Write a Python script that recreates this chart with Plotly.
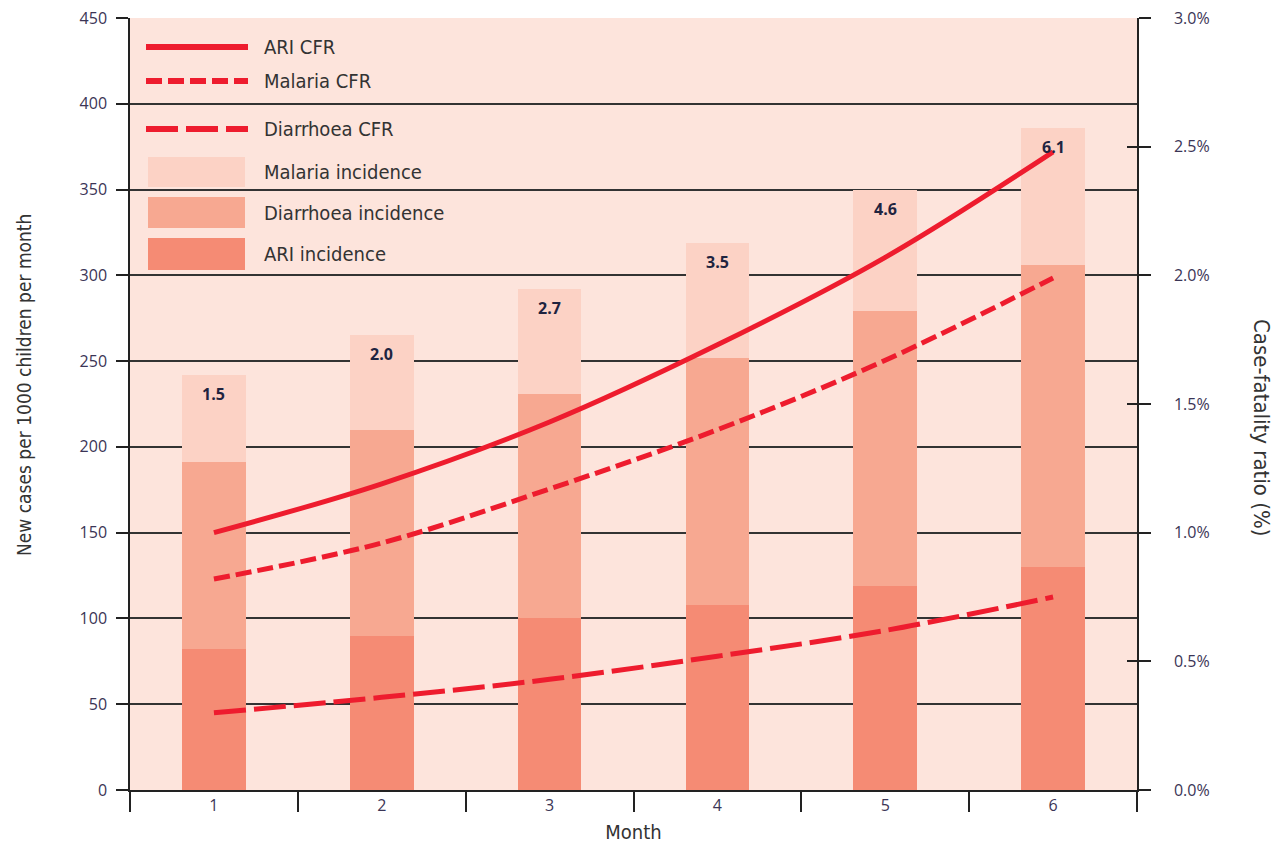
import plotly.graph_objects as go

months = ["1", "2", "3", "4", "5", "6"]
ari_inc = [82, 90, 100, 108, 119, 130]
diarrhoea_inc = [109, 120, 131, 144, 160, 176]
malaria_inc = [51, 55, 61, 67, 71, 80]
ari_cfr = [1.0, 1.19, 1.43, 1.73, 2.07, 2.48]
malaria_cfr = [0.82, 0.96, 1.17, 1.40, 1.67, 1.99]
diarrhoea_cfr = [0.30, 0.36, 0.43, 0.52, 0.62, 0.75]
bar_labels = ["1.5", "2.0", "2.7", "3.5", "4.6", "6.1"]
left_ticks = list(range(0, 451, 50))
right_ticks = [0, 0.5, 1.0, 1.5, 2.0, 2.5, 3.0]
right_ticktext = ["0.0%", "0.5%", "1.0%", "1.5%", "2.0%", "2.5%", "3.0%"]
right_inner_ticks = [0.5, 1.5, 2.5]

C_BG = "#FDE4DC"
C_MAL = "#FCD2C5"
C_DIA = "#F7A891"
C_ARI = "#F58B74"
C_RED = "#EE1C2E"
TXT = "#3b3556"
FONT = "Open Sans"
COND = "DejaVu Sans Condensed"
DASH_MAL = "16px,6px"
DASH_DIA = "32px,8px"

fig = go.Figure()
for vals, col, nm in [(ari_inc, C_ARI, "ARI incidence"), (diarrhoea_inc, C_DIA, "Diarrhoea incidence"),
                      (malaria_inc, C_MAL, "Malaria incidence")]:
    fig.add_bar(x=months, y=vals, marker=dict(color=col, line=dict(width=0)), width=0.38, name=nm)

fig.add_scatter(x=months, y=ari_cfr, yaxis="y2", mode="lines", line=dict(color=C_RED, width=5, shape="spline"), name="ARI CFR")
fig.add_scatter(x=months, y=malaria_cfr, yaxis="y2", mode="lines", line=dict(color=C_RED, width=5, shape="spline", dash=DASH_MAL), name="Malaria CFR")
fig.add_scatter(x=months, y=diarrhoea_cfr, yaxis="y2", mode="lines", line=dict(color=C_RED, width=5, shape="spline", dash=DASH_DIA), name="Diarrhoea CFR")

totals = [a + d + m for a, d, m in zip(ari_inc, diarrhoea_inc, malaria_inc)]
for i, (tot, lab) in enumerate(zip(totals, bar_labels)):
    fig.add_annotation(x=i, y=tot, text="<b>" + lab + "</b>", showarrow=False,
                       yanchor="top", yshift=-6, font=dict(family=FONT, size=16, color="#1f2440"))

# custom legend (pixel positions converted to paper coordinates)
L, R, T, B = 130, 1137, 18, 790
def px(x):
    return (x - L) / (R - L)
def py(y):
    return (B - y) / (B - T)

LEGFONT = dict(family=COND, size=20, color="#333333")
leg_lines = [("ARI CFR", 47, "solid"), ("Malaria CFR", 81, DASH_MAL), ("Diarrhoea CFR", 129, DASH_DIA)]
for name, yy, dash in leg_lines:
    fig.add_shape(type="line", xref="paper", yref="paper", x0=px(146), x1=px(248), y0=py(yy), y1=py(yy),
                  line=dict(color=C_RED, width=6, dash=dash))
    fig.add_annotation(xref="paper", yref="paper", x=px(262), y=py(yy), text=name, showarrow=False,
                       xanchor="left", yanchor="middle", font=LEGFONT)
leg_boxes = [("Malaria incidence", 157, 187, C_MAL), ("Diarrhoea incidence", 197, 228, C_DIA), ("ARI incidence", 238, 270, C_ARI)]
for name, y0, y1, col in leg_boxes:
    fig.add_shape(type="rect", xref="paper", yref="paper", x0=px(148), x1=px(245), y0=py(y1), y1=py(y0),
                  fillcolor=col, line=dict(width=0))
    fig.add_annotation(xref="paper", yref="paper", x=px(262), y=py((y0 + y1) / 2), text=name, showarrow=False,
                       xanchor="left", yanchor="middle", font=LEGFONT)

fig.add_annotation(xref="paper", yref="paper", x=px(1262), y=py(427), text="Case-fatality ratio (%)",
                   textangle=90, xanchor="center", yanchor="middle", showarrow=False,
                   font=dict(family=COND, size=22, color="#333333"))
fig.add_annotation(xref="paper", yref="paper", x=px(24), y=py(385), text="New cases per 1000 children per month",
                   textangle=-90, xanchor="center", yanchor="middle", showarrow=False,
                   font=dict(family=COND, size=19, color="#333333"))

fig.update_layout(
    width=1276, height=862,
    margin=dict(l=L, r=1276 - R, t=T, b=862 - B, autoexpand=False),
    paper_bgcolor="white", plot_bgcolor=C_BG,
    barmode="stack", showlegend=False,
    xaxis=dict(type="category", range=[-0.5, 5.5], tickson="boundaries", ticks="outside", ticklen=20,
               tickcolor="#222", tickwidth=1.5, showline=True, linecolor="#222", linewidth=1.5,
               showgrid=False, tickfont=dict(family=FONT, size=16, color=TXT),
               title=dict(text="Month", font=dict(family=COND, size=20, color="#333333"), standoff=10)),
    yaxis=dict(range=[0, 450], tickvals=left_ticks, ticks="outside", ticklen=12, tickcolor="#222", tickwidth=1.5,
               showline=True, linecolor="#222", linewidth=1.5, showgrid=True, gridcolor="#333", gridwidth=1.5,
               zeroline=False, tickfont=dict(family=FONT, size=16, color=TXT), ticklabelstandoff=6),
    yaxis2=dict(range=[0, 3], overlaying="y", side="right", tickvals=right_ticks, ticktext=right_ticktext,
                ticks="outside", ticklen=12, tickcolor="#222", tickwidth=1.5, showline=True, linecolor="#222",
                linewidth=1.5, showgrid=False, zeroline=False, ticklabelstandoff=20,
                tickfont=dict(family=FONT, size=16, color=TXT)),
    yaxis3=dict(range=[0, 3], overlaying="y", side="right", tickvals=right_inner_ticks, ticks="inside",
                ticklen=10, tickcolor="#222", tickwidth=1.5, showticklabels=False, showline=False,
                showgrid=False, zeroline=False),
)
fig.add_scatter(x=[months[0]], y=[None], yaxis="y3", showlegend=False, hoverinfo="skip")

fig.write_html("out.html")
